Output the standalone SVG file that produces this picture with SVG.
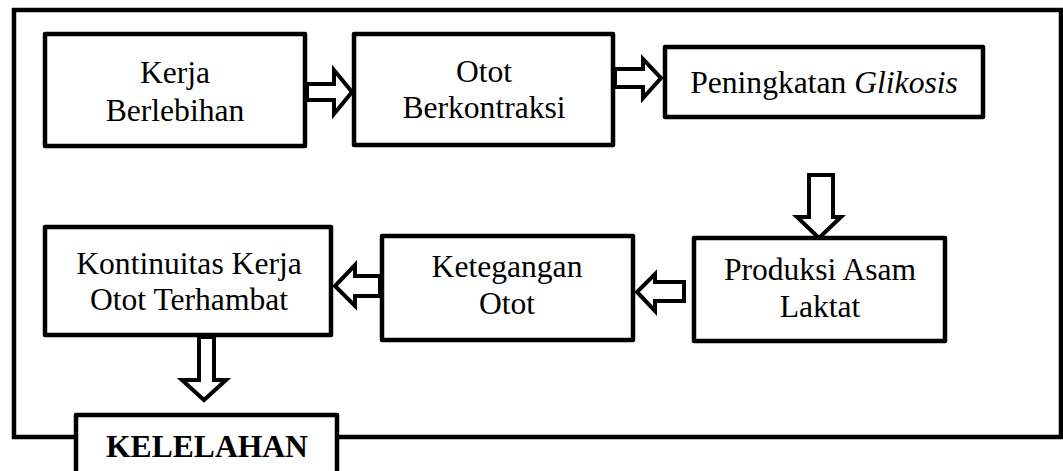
<svg xmlns="http://www.w3.org/2000/svg" width="1063" height="471" viewBox="0 0 1063 471">
<style>
.box{fill:#fff;stroke:#000;stroke-width:4.5;stroke-linejoin:round}
.frame{fill:none;stroke:#000;stroke-width:4.5}
.arr{fill:#fff;stroke:#000;stroke-width:4;stroke-linejoin:miter;stroke-miterlimit:10}
text{font-family:"Liberation Serif","Times New Roman",serif;font-size:31.6px;fill:#000;text-anchor:middle}
.b{font-weight:bold}
.i{font-style:italic}
</style>
<rect width="1063" height="471" fill="#fff"/>
<rect id="frame" class="frame" x="14" y="10" width="1047" height="427"/>
<g id="connectors">
<polygon class="arr" points="307,84 334,84 334,70 352,92 334,114 334,100 307,100"/>
<polygon class="arr" points="615,69 643,69 643,59 661,78 643,98 643,87 615,87"/>
<polygon class="arr" points="809,175 833,175 833,217 841,217 819,238 797,217 809,217"/>
<polygon class="arr" points="684,282 655,282 655,274 637,292 655,311 655,301 684,301"/>
<polygon class="arr" points="380,276 355,276 355,265 335,286 355,306 355,296 380,296"/>
<polygon class="arr" points="199,337 214,337 214,380 226,380 204,400 182,380 199,380"/>
</g>
<g id="kerja">
<rect class="box" x="45" y="34" width="260" height="112"/>
<text x="175" y="83">Kerja</text>
<text x="175" y="121">Berlebihan</text>
</g>
<g id="otot">
<rect class="box" x="354" y="34" width="259" height="111"/>
<text x="484" y="82">Otot</text>
<text x="484" y="118">Berkontraksi</text>
</g>
<g id="glikosis">
<rect class="box" x="665" y="47" width="318" height="70"/>
<text x="824" y="93">Peningkatan <tspan class="i">Glikosis</tspan></text>
</g>
<g id="produksi">
<rect class="box" x="694" y="238" width="251" height="103"/>
<text x="820" y="280">Produksi Asam</text>
<text x="820" y="317">Laktat</text>
</g>
<g id="ketegangan">
<rect class="box" x="382" y="236" width="251" height="104"/>
<text x="507" y="277">Ketegangan</text>
<text x="507" y="314">Otot</text>
</g>
<g id="kontinuitas">
<rect class="box" x="45" y="227" width="286" height="108"/>
<text x="189" y="274">Kontinuitas Kerja</text>
<text x="189" y="310">Otot Terhambat</text>
</g>
<g id="kelelahan">
<rect class="box" x="76" y="415" width="261" height="70"/>
<text class="b" x="207" y="457">KELELAHAN</text>
</g>
</svg>
